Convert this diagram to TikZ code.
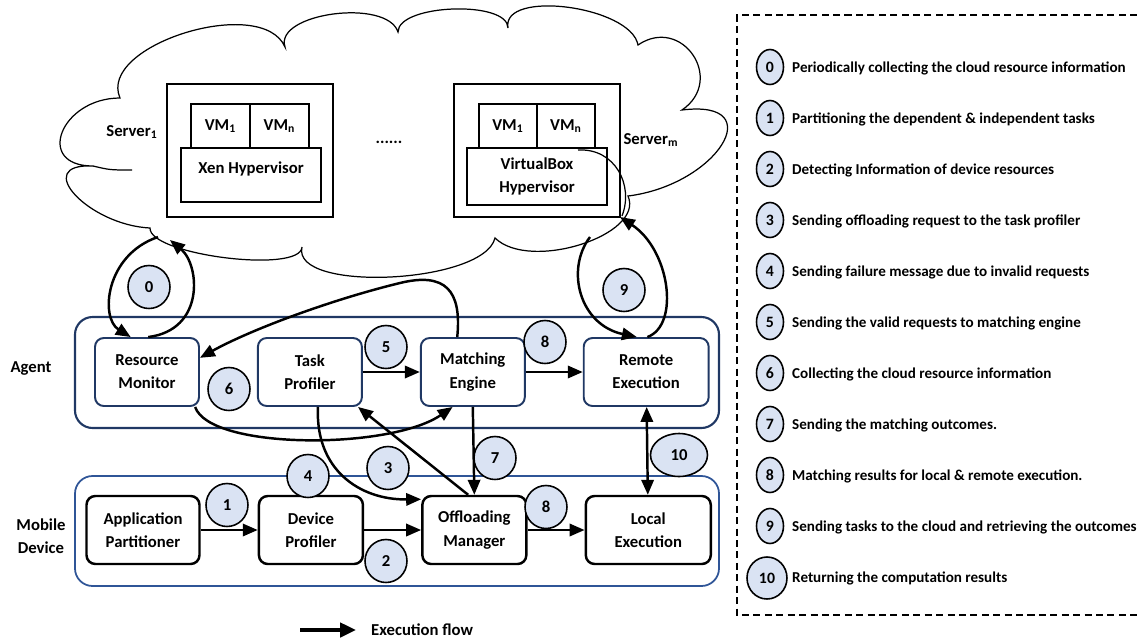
\documentclass[tikz,border=0pt]{standalone}
\usepackage{fontspec}
\setmainfont{Carlito}
\usetikzlibrary{arrows.meta,positioning,shapes.geometric}

\definecolor{agentblue}{RGB}{32,56,100}
\definecolor{mobileblue}{RGB}{47,85,151}
\definecolor{stepfill}{RGB}{218,227,243}

\tikzset{
  flowtip/.tip={Triangle[length=8.5pt,width=7pt]},
  lbl/.style={font=\bfseries\fontsize{9.5}{13.2}\selectfont,align=center},
  box/.style={lbl,draw,rounded corners=5pt,fill=white,minimum width=2.08cm,minimum height=1.36cm},
  agentbox/.style={box,draw=agentblue,line width=1.1pt},
  mobilebox/.style={box,draw=black,line width=1.4pt},
  srvbox/.style={lbl,draw,fill=white,line width=1pt,outer sep=0pt},
  num/.style={ellipse,draw,line width=0.9pt,fill=stepfill,inner sep=0pt,minimum width=0.84cm,minimum height=0.86cm,font=\bfseries\fontsize{9.5}{11}\selectfont},
  keynum/.style={num,minimum width=0.54cm,minimum height=0.7cm,font=\bfseries\fontsize{9}{11}\selectfont},
  keytxt/.style={anchor=west,font=\bfseries\fontsize{8.6}{10}\selectfont},
  flow/.style={line width=1.4pt,-flowtip},
}

\begin{document}
\begin{tikzpicture}[x=0.02cm,y=-0.02cm,node distance=1.14cm]
\useasboundingbox (0,0) rectangle (1137,640);

% the cloud
\draw[line width=0.7pt,fill=white] (120,98)
  .. controls (97,45) and (262,-6) .. (285,47)
  .. controls (274,13) and (387,-2) .. (398,32)
  .. controls (398,4) and (508,0) .. (508,28)
  .. controls (501,-11) and (631,6) .. (638,45)
  .. controls (682,15) and (726,80) .. (682,110)
  .. controls (771,99) and (717,185) .. (628,196)
  .. controls (645,235) and (530,272) .. (495,238)
  .. controls (484,284) and (291,293) .. (302,247)
  .. controls (301,274) and (149,255) .. (150,228)
  .. controls (88,225) and (31,163) .. (93,166)
  .. controls (34,166) and (61,98) .. (120,98) -- cycle;
\draw[line width=0.7pt] (93,166) .. controls (110,170) .. (132,170);

% servers
\node[srvbox,minimum width=3.32cm,minimum height=2.66cm] (srv1) at (250,150.5) {};
\node[srvbox,minimum width=1.18cm,minimum height=0.88cm] (vm11) at (220.5,126) {VM\textsubscript{1}};
\node[srvbox,minimum width=1.18cm,minimum height=0.88cm] (vm1n) at (279.5,126) {VM\textsubscript{n}};
\node[srvbox,minimum width=2.8cm,minimum height=1.08cm] (xen) at (251,175) {Xen Hypervisor\\[-5pt]\phantom{X}};
\node[lbl] (s1lbl) at (132,132) {Server\textsubscript{1}};

\node[srvbox,minimum width=3.32cm,minimum height=2.66cm] (srvm) at (537,150.5) {};
\node[srvbox,minimum width=1.16cm,minimum height=0.88cm] (vmm1) at (508,126) {VM\textsubscript{1}};
\node[srvbox,minimum width=1.16cm,minimum height=0.88cm] (vmmn) at (566,126) {VM\textsubscript{n}};
\node[srvbox,minimum width=2.8cm,minimum height=1.14cm] (vbox) at (537,176.5) {VirtualBox\\Hypervisor};
\node[lbl] (smlbl) at (651,140) {Server\textsubscript{m}};
\draw[line width=0.7pt] (578,150) .. controls (615,148) and (634,185) .. (622,216);

\node[lbl] (dots) at (389,142) {......};

% agent and mobile device frames
\draw[agentblue,line width=1.2pt,rounded corners=10pt] (75,317) rectangle (719,428);
\draw[mobileblue,line width=1pt,rounded corners=10pt] (75,476) rectangle (719,586);
\node[lbl] (agent) at (31,368) {Agent};
\node[lbl] (mobile) at (41,536) {Mobile\\Device};

\node[agentbox] (rm) at (147,372) {Resource\\Monitor};
\node[agentbox,right=of rm] (tp) {Task\\Profiler};
\node[agentbox,right=of tp] (me) {Matching\\Engine};
\node[agentbox,right=of me,minimum width=2.5cm] (re) {Remote\\Execution};

\node[mobilebox,minimum width=2.26cm] (ap) at (143,530) {Application\\Partitioner};
\node[mobilebox,right=of ap] (dp) {Device\\Profiler};
\node[mobilebox,right=of dp] (om) {Offloading\\Manager};
\node[mobilebox,right=of om,minimum width=2.5cm] (le) {Local\\Execution};

% flows
\coordinate (c0in) at (158,237);
\coordinate (c0out) at (170,240);
\coordinate (c9in) at (590,237);
\draw[flow] (c0in) .. controls (105,255) and (100,318) .. (rm.115);
\draw[flow] (rm.88) .. controls (205,330) and (200,265) .. (c0out);
\draw[flow] (c9in) .. controls (565,270) and (580,325) .. (re.105);
\draw[flow] (re.88) .. controls (680,325) and (670,250) .. (srvm.south east);

\draw[flow] (tp) -- (me);
\draw[flow] (me) -- (re);
\draw[flow] (me.114) .. controls (462,290) and (445,272) .. (400,283)
  .. controls (330,300) and (250,330) .. (rm.15);
\draw[flow] (rm.-36) .. controls (210,450) and (390,450) .. (me.-120);
\draw[flow] (me.south) -- (om.north);
\draw[flow] (om.100) -- (tp.-36);
\draw[flow] (tp.-77) .. controls (315,470) and (360,500) .. (om.150);
\draw[line width=1.4pt,flowtip-flowtip] (re) -- (le);

\draw[flow] (ap) -- (dp);
\draw[flow] (dp) -- (om);
\draw[flow] (om) -- (le);

% step numbers
\node[num] (n0) at (149,287) {0};
\node[num] (n9) at (624,290) {9};
\node[num] (n5) at (386,347) {5};
\node[num] (n8a) at (545,342) {8};
\node[num] (n6) at (229,389) {6};
\node[num] (n7) at (495,458) {7};
\node[num,minimum width=1.14cm] (n10) at (679,455) {10};
\node[num] (n3) at (388,468) {3};
\node[num] (n4) at (308,476) {4};
\node[num] (n1) at (227,505) {1};
\node[num] (n8b) at (546,507) {8};
\node[num] (n2) at (386,561) {2};

% legend
\draw[dash pattern=on 4pt off 2.5pt,line width=0.7pt] (1137,15) -- (737,15) -- (737,615) -- (1137,615);
\foreach \t [count=\i from 0] in {Periodically collecting the cloud resource information,
  Partitioning the dependent \& independent tasks,
  Detecting Information of device resources,
  Sending offloading request to the task profiler,
  Sending failure message due to invalid requests,
  Sending the valid requests to matching engine,
  Collecting the cloud resource information,
  Sending the matching outcomes.,
  Matching results for local \& remote execution.,
  Sending tasks to the cloud and retrieving the outcomes} {
  \node[keynum] (k\i) at (770,67+51*\i) {\i};
  \node[keytxt] (kt\i) at (786,68+51*\i) {\t};
}
\node[keynum,minimum width=0.8cm,minimum height=0.84cm] (k10) at (767,578) {10};
\node[keytxt] (kt10) at (786,578) {Returning the computation results};

\node[lbl,anchor=west] (eflow) at (365,630) {Execution flow};
\coordinate (efstart) at (300,630);
\draw[line width=2.2pt,-{Triangle[length=9pt,width=8pt]}] (efstart) -- ([xshift=-0.18cm]eflow.west);
\end{tikzpicture}
\end{document}
